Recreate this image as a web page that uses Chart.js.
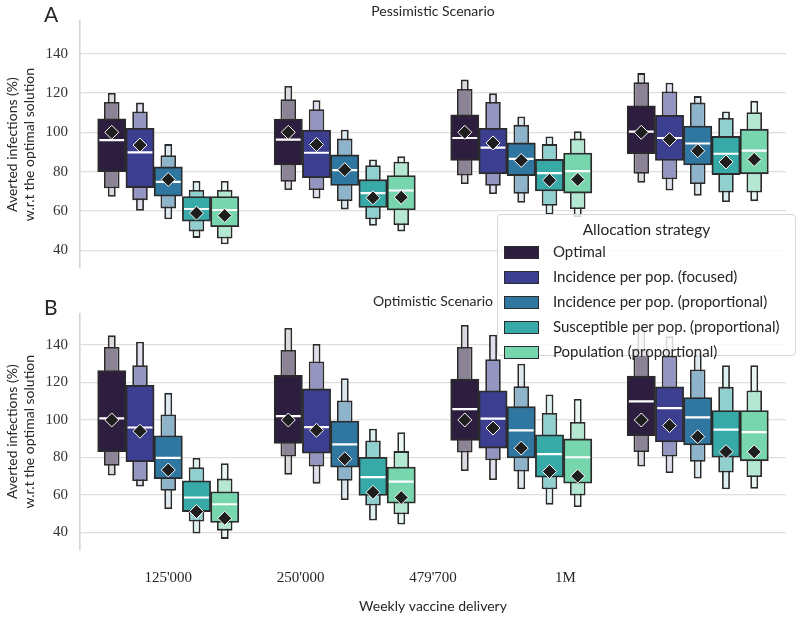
<!DOCTYPE html>
<html>
<head>
<meta charset="utf-8">
<script src="https://cdn.jsdelivr.net/npm/chart.js@4.4.1/dist/chart.umd.min.js"></script>
<style>
  body { margin: 0; background: #fff; }
  #wrap { position: relative; width: 800px; height: 620px; overflow: hidden; }
  #wrap canvas { position: absolute; left: 0; }
  .letter { position: absolute; left: 44px; font: 21px Lato, sans-serif; line-height: 21px; color: #262626; }
  #legend {
    position: absolute; left: 497px; top: 214px; width: 299px; height: 142px;
    background: rgba(255, 255, 255, 0.8); border: 1px solid #d6d6d6; border-radius: 4px;
    font-family: Lato, sans-serif; color: #262626; box-sizing: border-box;
  }
  #legend .ttl { position: absolute; left: 0; right: 0; top: 5px; text-align: center; font-size: 15.5px; }
  #legend .item { position: absolute; left: 6px; height: 20px; line-height: 20px; font-size: 15px; white-space: nowrap; }
  #legend .patch { display: inline-block; width: 33px; height: 11px; border: 1.5px solid #2b2b2b; vertical-align: middle; margin-right: 14px; position: relative; top: -1px; }
</style>
</head>
<body>
<div id="wrap">
  <canvas id="chartA" width="800" height="290" style="top:0"></canvas>
  <canvas id="chartB" width="800" height="330" style="top:290px"></canvas>
  <div class="letter" style="top:3px">A</div>
  <div class="letter" style="top:296px">B</div>
  <div id="legend"></div>
</div>
<script>
// Categories and labels
const strategies = [
    'Optimal',
    'Incidence per pop. (focused)',
    'Incidence per pop. (proportional)',
    'Susceptible per pop. (proportional)',
    'Population (proportional)'
];
const deliveries = ["125'000", "250'000", "479'700", "1M"];
const yTicks = [40, 60, 80, 100, 120, 140];
// where the delivery labels sit on the x axis (in group units)
const deliveryTickPos = [0, 0.75, 1.5, 2.25];

// Pessimistic scenario (rows = strategy, columns = weekly delivery)
const pessL3Lo = [[67.2, 70.7, 73.7, 74.3], [60.1, 66.3, 68.6, 70.4], [55.8, 60.8, 64.2, 67.8], [46.3, 52.5, 58.2, 64.5], [43.1, 49.6, 56.9, 65.0]];
const pessL2Lo = [[71.5, 74.8, 78.0, 78.9], [65.5, 70.7, 72.8, 76.1], [61.3, 65.0, 68.8, 73.7], [49.6, 55.8, 62.6, 69.4], [46.0, 52.8, 61.0, 69.4]];
const pessLo   = [[80.0, 83.4, 85.7, 89.1], [71.9, 76.9, 78.9, 85.7], [67.5, 73.0, 78.0, 83.4], [54.8, 61.8, 70.2, 78.5], [52.0, 60.5, 69.1, 78.9]];
const pessMed  = [[96.0, 96.3, 97.1, 100.3], [89.8, 89.6, 92.2, 97.1], [74.8, 80.8, 86.5, 94.3], [61.0, 69.1, 79.2, 89.1], [60.5, 70.4, 80.3, 90.7]];
const pessHi   = [[106.8, 106.7, 108.9, 113.5], [102.0, 101.1, 102.0, 108.6], [82.4, 88.5, 94.6, 103.2], [67.3, 75.9, 86.2, 97.9], [67.3, 78.0, 89.4, 101.6]];
const pessL2Hi = [[115.4, 116.8, 122.0, 125.5], [110.6, 111.7, 115.4, 120.8], [88.3, 96.8, 103.8, 115.1], [70.7, 83.3, 94.0, 107.3], [70.7, 85.0, 96.8, 110.2]];
const pessL3Hi = [[120.0, 123.6, 126.8, 130.1], [115.1, 116.3, 119.8, 125.2], [94.0, 101.3, 108.1, 118.4], [75.3, 86.2, 97.9, 110.6], [75.3, 87.8, 100.5, 116.0]];
const pessMean = [[100, 100, 100, 100], [93.5, 93.8, 94.6, 96.3], [76.0, 81.0, 85.7, 90.6], [58.9, 66.7, 75.6, 84.9], [57.7, 67.0, 76.0, 86.2]];

// Optimistic scenario
const optL3Lo = [[70.3, 70.8, 72.8, 75.2], [64.5, 66.0, 67.9, 71.7], [52.4, 57.3, 63.0, 68.7], [39.4, 46.3, 54.8, 63.0], [36.5, 44.2, 53.5, 63.3]];
const optL2Lo = [[75.6, 80.5, 82.6, 82.9], [67.4, 75.2, 78.5, 80.5], [62.2, 67.5, 72.5, 77.7], [45.8, 54.3, 63.0, 72.0], [40.9, 49.6, 59.7, 69.5]];
const optLo   = [[83.1, 87.5, 89.1, 91.6], [77.7, 82.3, 85.0, 88.3], [68.7, 74.8, 79.7, 86.7], [51.1, 59.7, 69.5, 80.1], [45.3, 55.6, 66.3, 78.2]];
const optMed  = [[100.9, 102.1, 105.8, 109.9], [96.0, 96.2, 100.7, 106.3], [79.8, 87.0, 94.5, 101.4], [58.6, 69.5, 81.8, 94.9], [55.0, 67.1, 80.1, 93.5]];
const optHi   = [[126.4, 123.8, 121.8, 123.4], [118.5, 116.6, 115.6, 117.7], [91.6, 99.4, 107.1, 112.0], [67.5, 80.1, 92.1, 105.0], [61.7, 74.9, 89.9, 105.0]];
const optL2Hi = [[139.0, 137.4, 139.0, 138.0], [129.2, 131.3, 132.5, 134.4], [103.0, 110.4, 118.0, 127.0], [74.8, 89.1, 103.8, 117.7], [68.7, 83.4, 98.9, 115.8]];
const optL3Hi = [[145.2, 149.1, 150.7, 148.8], [141.8, 140.6, 145.5, 144.7], [114.5, 122.3, 130.0, 138.1], [79.7, 95.3, 113.6, 129.2], [76.9, 93.5, 111.2, 129.2]];
const optMean = [[100, 100, 100, 100], [94.0, 94.5, 95.7, 97.0], [73.3, 79.3, 85.0, 91.1], [51.1, 61.4, 72.5, 83.1], [47.5, 58.6, 70.0, 83.0]];

// Colours
const mainColors = ['#2d1e40', '#3c3f8f', '#2f77a1', '#37aaa8', '#78d6ae'];
const edgeColor = '#2b2b2b';

function lighten(hex, t) {
    const n = parseInt(hex.slice(1), 16);
    const r = (n >> 16) & 255, g = (n >> 8) & 255, b = n & 255;
    const m = c => Math.round(c + (255 - c) * t);
    return `rgb(${m(r)}, ${m(g)}, ${m(b)})`;
}

Chart.defaults.font.family = 'Lato, sans-serif';
Chart.defaults.color = '#262626';

const SLOT = 0.8 / strategies.length; // width of one box in group units

function buildDatasets(st) {
    const sets = [];
    strategies.forEach((name, s) => {
        const off = (s - (strategies.length - 1) / 2) * SLOT;
        const xs = deliveries.map((d, g) => g + off);
        const common = {
            type: 'bar',
            grouped: false,
            borderColor: edgeColor,
            borderWidth: 1.8,
            borderSkipped: false,
            categoryPercentage: 1
        };
        // letter-value boxes: outer levels first, main box on top
        sets.push({ ...common, label: name, order: 2, barPercentage: 1,
            backgroundColor: mainColors[s],
            data: xs.map((x, g) => ({ x, y: [st.lo[s][g], st.hi[s][g]] })) });
        sets.push({ ...common, label: name + ' l2', order: 3, barPercentage: 0.55,
            backgroundColor: lighten(mainColors[s], 0.45),
            data: xs.map((x, g) => ({ x, y: [st.l2lo[s][g], st.l2hi[s][g]] })) });
        sets.push({ ...common, label: name + ' l3', order: 4, barPercentage: 0.28,
            backgroundColor: lighten(mainColors[s], 0.83),
            data: xs.map((x, g) => ({ x, y: [st.l3lo[s][g], st.l3hi[s][g]] })) });

        // median: short white segment across each box
        const medPts = [];
        xs.forEach((x, g) => {
            medPts.push({ x: x - SLOT * 0.44, y: st.med[s][g] });
            medPts.push({ x: x + SLOT * 0.44, y: st.med[s][g] });
            medPts.push({ x: x + SLOT * 0.44, y: null });
        });
        sets.push({ type: 'line', label: name + ' median', order: 1,
            data: medPts, borderColor: '#ffffff', borderWidth: 2.2, pointRadius: 0,
            spanGaps: false, fill: false });

        // mean: black diamond
        sets.push({ type: 'line', label: name + ' mean', order: 0, showLine: false,
            data: xs.map((x, g) => ({ x, y: st.mean[s][g] })),
            pointStyle: 'rectRot', pointRadius: 7,
            pointBackgroundColor: '#1e1e1e', pointBorderColor: '#ffffff', pointBorderWidth: 1 });
    });
    return sets;
}

function makeChart(id, title, st, showX, titlePad, padBottom) {
    new Chart(document.getElementById(id), {
        type: 'bar',
        data: { datasets: buildDatasets(st) },
        options: {
            responsive: false,
            animation: false,
            events: [],
            layout: { padding: { left: 0, right: 14, top: 0, bottom: padBottom } },
            plugins: {
                legend: { display: false },
                tooltip: { enabled: false },
                title: {
                    display: true,
                    text: title,
                    fullSize: false,
                    font: { size: 14, weight: 'normal' },
                    color: '#262626',
                    padding: titlePad
                }
            },
            scales: {
                x: {
                    type: 'linear',
                    position: 'bottom',
                    offset: false,
                    min: -0.5,
                    max: 3.5,
                    grid: { display: false, offset: false },
                    border: { display: false },
                    afterBuildTicks: axis => {
                        axis.ticks = deliveryTickPos.map(v => ({ value: v }));
                    },
                    ticks: {
                        display: showX,
                        autoSkip: false,
                        maxRotation: 0,
                        padding: 13,
                        font: { family: '"Liberation Serif", serif', size: 15, lineHeight: 1 },
                        color: '#262626',
                        callback: (v, i) => deliveries[i]
                    },
                    title: {
                        display: showX,
                        text: 'Weekly vaccine delivery',
                        font: { size: 14 },
                        color: '#262626',
                        padding: { top: 0, bottom: 0 }
                    }
                },
                y: {
                    stacked: false,
                    min: 31,
                    max: 156.5,
                    afterFit: axis => { axis.width = 80; },
                    afterBuildTicks: axis => {
                        axis.ticks = yTicks.map(v => ({ value: v }));
                    },
                    grid: { color: '#dedede', lineWidth: 1.3, drawTicks: false },
                    border: { color: '#d4d4d4', width: 1.6 },
                    ticks: {
                        padding: 12,
                        font: { family: '"Liberation Serif", serif', size: 15 },
                        color: '#333333'
                    },
                    title: {
                        display: true,
                        text: ['Averted infections (%)', 'w.r.t the optimal solution'],
                        font: { size: 14 },
                        color: '#262626',
                        padding: { top: 4, bottom: 0 }
                    }
                }
            }
        }
    });
}

makeChart('chartA', 'Pessimistic Scenario', {
    l3lo: pessL3Lo, l2lo: pessL2Lo, lo: pessLo, med: pessMed,
    hi: pessHi, l2hi: pessL2Hi, l3hi: pessL3Hi, mean: pessMean
}, false, { top: 3, bottom: 1.4 }, 14);

makeChart('chartB', 'Optimistic Scenario', {
    l3lo: optL3Lo, l2lo: optL2Lo, lo: optLo, med: optMed,
    hi: optHi, l2hi: optL2Hi, l3hi: optL3Hi, mean: optMean
}, true, { top: 3, bottom: 4.4 }, 5);

// Legend overlay spanning both panels
const legend = document.getElementById('legend');
legend.innerHTML = '<div class="ttl">Allocation strategy</div>' +
    strategies.map((name, s) =>
        `<div class="item" style="top:${26 + s * 25}px"><span class="patch" style="background:${mainColors[s]}"></span>${name}</div>`
    ).join('');
</script>
</body>
</html>
